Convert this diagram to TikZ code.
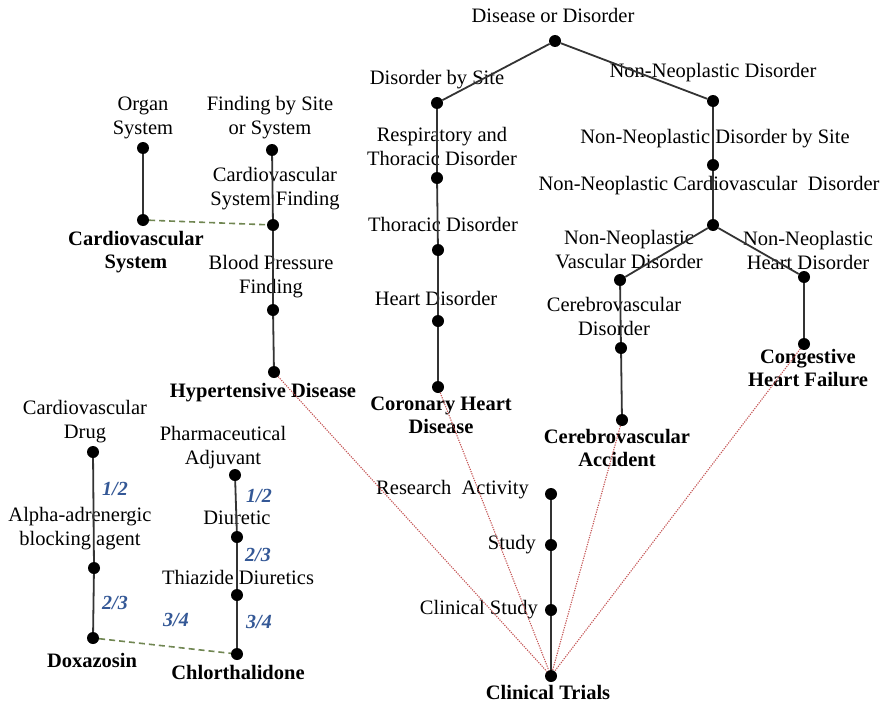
\documentclass[tikz,border=0pt]{standalone}
\usepackage{fontspec}
\setmainfont{Liberation Serif}
\definecolor{zelena}{RGB}{112,134,82}
\definecolor{rdeca}{RGB}{196,84,84}
\definecolor{modra}{RGB}{52,88,150}
\tikzset{
	drevo/.style={x=1pt, y=-1pt, font=\fontsize{20.5}{24}\selectfont},
	tocka/.style={circle, fill=black, inner sep=0pt, minimum size=12pt},
	pojem/.style={align=center, inner sep=0pt},
	cilj/.style={pojem, font=\fontsize{20.5}{23}\selectfont\bfseries},
	delez/.style={inner sep=0pt, text=modra, font=\fontsize{20}{24}\selectfont\bfseries\itshape},
	veza/.style={draw=black!80, line width=1.8pt},
	ujema/.style={draw=zelena, line width=1.6pt, dash pattern=on 6pt off 4pt},
	pot/.style={draw=rdeca, line width=1.1pt, dash pattern=on 1.2pt off 1.2pt},
}
\begin{document}
\begin{tikzpicture}[drevo]
\useasboundingbox (0,0) rectangle (883,709);

% ---------- organski sistem ----------
\node[tocka] (organ) at (143,148) {};
\node[tocka] (kardsis) at (143,220) {};
\node[tocka] (najdba) at (272,150) {};
\node[tocka] (kardnajdba) at (273,225) {};
\node[tocka] (tlak) at (273,310) {};
\node[tocka] (hiper) at (274,372) {};

\node[pojem] (lorgan) at (143,118) {Organ\\System};
\node[pojem] (lnajdba) at (270,118) {Finding by Site\\or System};
\node[pojem] (lkardnajdba) at (275,189) {Cardiovascular\\System Finding};
\node[cilj] (lkardsis) at (136,252) {Cardiovascular\\System};
\node[pojem] (ltlak) at (271,277) {Blood Pressure\\Finding};
\node[cilj] (lhiper) at (263,393) {Hypertensive Disease};

% ---------- bolezni ----------
\node[tocka] (bolezen) at (555,41) {};
\node[tocka] (mesto) at (437,103) {};
\node[tocka] (respir) at (437,178) {};
\node[tocka] (torak) at (438,250) {};
\node[tocka] (srce) at (438,321) {};
\node[tocka] (koronar) at (438,387) {};
\node[tocka] (nenov) at (713,101) {};
\node[tocka] (nenovmesto) at (713,165) {};
\node[tocka] (nenovkard) at (713,225) {};
\node[tocka] (zilna) at (620,280) {};
\node[tocka] (srcna) at (804,277) {};
\node[tocka] (cereb) at (621,348) {};
\node[tocka] (cva) at (622,420) {};
\node[tocka] (chf) at (804,344) {};

\node[pojem] (lbolezen) at (553,15) {Disease or Disorder};
\node[pojem] (lmesto) at (437,80) {Disorder by Site};
\node[pojem] (lnenov) at (713,73) {Non-Neoplastic Disorder};
\node[pojem] (lrespir) at (442,146) {Respiratory and\\Thoracic Disorder};
\node[pojem] (lnenovmesto) at (715,139) {Non-Neoplastic Disorder by Site};
\node[pojem] (ltorak) at (443,224) {Thoracic Disorder};
\node[pojem] (lnenovkard) at (709,186) {Non-Neoplastic Cardiovascular~ Disorder};
\node[pojem] (lzilna) at (629,250) {Non-Neoplastic\\Vascular Disorder};
\node[pojem] (lsrcna) at (808,250) {Non-Neoplastic\\Heart Disorder};
\node[pojem] (lsrce) at (436,298) {Heart Disorder};
\node[pojem] (lcereb) at (614,316) {Cerebrovascular\\Disorder};
\node[cilj] (lchf) at (808,368) {Congestive\\Heart Failure};
\node[cilj] (lkoronar) at (441,415) {Coronary Heart\\Disease};
\node[cilj] (lcva) at (617,448) {Cerebrovascular\\Accident};

% ---------- zdravila ----------
\node[tocka] (zdravilo) at (93,452) {};
\node[tocka] (alfa) at (94,568) {};
\node[tocka] (doksa) at (93,638) {};
\node[tocka] (adjuvant) at (235,475) {};
\node[tocka] (diuretik) at (237,537) {};
\node[tocka] (tiazid) at (237,595) {};
\node[tocka] (klortal) at (237,654) {};

\node[pojem] (lzdravilo) at (85,422) {Cardiovascular\\Drug};
\node[pojem] (lalfa) at (80,529) {Alpha-adrenergic\\blocking agent};
\node[cilj] (ldoksa) at (92,660) {Doxazosin};
\node[pojem] (ladjuvant) at (223,448) {Pharmaceutical\\Adjuvant};
\node[pojem] (ldiuretik) at (237,518) {Diuretic};
\node[pojem] (ltiazid) at (238,577) {Thiazide Diuretics};
\node[cilj] (lklortal) at (238,672) {Chlorthalidone};

\node[delez] (d1) at (115,489) {1/2};
\node[delez] (d2) at (115,603) {2/3};
\node[delez] (d3) at (176,620) {3/4};
\node[delez] (d4) at (259,496) {1/2};
\node[delez] (d5) at (258,555) {2/3};
\node[delez] (d6) at (259,622) {3/4};

% ---------- raziskave ----------
\node[tocka] (raziskava) at (551,494) {};
\node[tocka] (studija) at (551,545) {};
\node[tocka] (klinstud) at (551,610) {};
\node[tocka] (klinpos) at (551,676) {};

\node[pojem, anchor=east] (lraziskava) at (529,490) {Research~ Activity};
\node[pojem, anchor=east] (lstudija) at (536,545) {Study};
\node[pojem, anchor=east] (lklinstud) at (538,610) {Clinical Study};
\node[cilj] (lklinpos) at (548,692) {Clinical Trials};

% ---------- povezave ----------
\draw[veza] (organ) -- (kardsis);
\draw[veza] (najdba) -- (kardnajdba) -- (tlak) -- (hiper);
\draw[veza] (mesto) -- (bolezen) -- (nenov);
\draw[veza] (mesto) -- (respir) -- (torak) -- (srce) -- (koronar);
\draw[veza] (nenov) -- (nenovmesto) -- (nenovkard);
\draw[veza] (zilna) -- (nenovkard) -- (srcna);
\draw[veza] (zilna) -- (cereb) -- (cva);
\draw[veza] (srcna) -- (chf);
\draw[veza] (zdravilo) -- (alfa) -- (doksa);
\draw[veza] (adjuvant) -- (diuretik) -- (tiazid) -- (klortal);
\draw[veza] (raziskava) -- (studija) -- (klinstud) -- (klinpos);

\draw[ujema] (kardsis) -- (kardnajdba);
\draw[ujema] (doksa) -- (klortal);

\draw[pot] (hiper) -- (klinpos);
\draw[pot] (koronar) -- (klinpos);
\draw[pot] (cva) -- (klinpos);
\draw[pot] (chf) -- (klinpos);

\end{tikzpicture}
\end{document}
